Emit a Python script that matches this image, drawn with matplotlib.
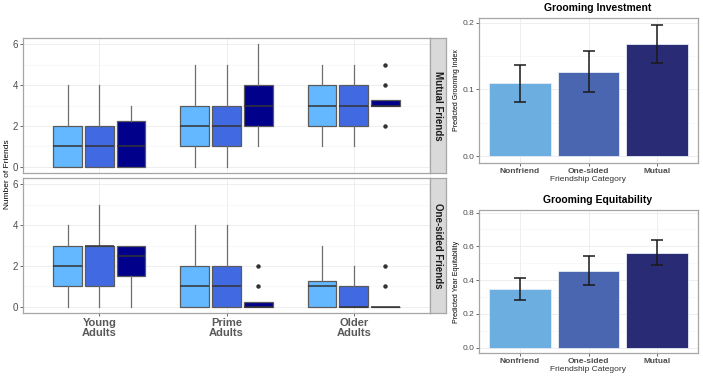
import numpy as np
import matplotlib
matplotlib.use('Agg')
import matplotlib.pyplot as plt

plt.rcParams['font.family'] = ['Liberation Sans', 'DejaVu Sans']

# ---- data ----
age_groups = ['Young\nAdults', 'Prime\nAdults', 'Older\nAdults']
friend_cats = ['Nonfriend', 'One-sided', 'Mutual']

# Mutual friends facet: per age group, per friendship type [Nonfriend, One-sided, Mutual]
mut_whislo = [[0, 0, 0], [0, 0, 1], [1, 1, 3]]
mut_q1 = [[0, 0, 0], [1, 1, 2], [2, 2, 3]]
mut_med = [[1, 1, 1], [2, 2, 3], [3, 3, 3]]
mut_q3 = [[2, 2, 2.25], [3, 3, 4], [4, 4, 3.25]]
mut_whishi = [[4, 4, 3], [5, 5, 6], [5, 5, 3.25]]
mut_fliers = [[[], [], []], [[], [], []], [[], [], [2, 4, 5]]]

# One-sided friends facet
one_whislo = [[0, 0, 0], [0, 0, 0], [0, 0, 0]]
one_q1 = [[1, 1, 1.5], [0, 0, 0], [0, 0, 0]]
one_med = [[2, 3, 2.5], [1, 1, 0], [1, 0, 0]]
one_q3 = [[3, 3, 3], [2, 2, 0.25], [1.25, 1, 0]]
one_whishi = [[4, 5, 3], [4, 4, 0.25], [3, 2, 0]]
one_fliers = [[[], [], []], [[], [], [1, 2]], [[], [], [1, 2]]]

# right-hand bar charts
invest_mean = [0.109, 0.126, 0.168]
invest_lo = [0.081, 0.096, 0.139]
invest_hi = [0.137, 0.157, 0.197]

equit_mean = [0.345, 0.454, 0.563]
equit_lo = [0.280, 0.370, 0.490]
equit_hi = [0.413, 0.543, 0.638]

box_colors = ['#63B8FF', '#4169E1', '#00008B']
bar_colors = ['#6CAEE0', '#4A66B0', '#292B75']
tick_col = '#4D4D4D'
border_col = '#A6A6A6'
grid_col = '#EBEBEB'

fig = plt.figure(figsize=(7.03, 3.77), dpi=100)
W, H = 703, 377


def px_axes(x0, y0, x1, y1):
    return fig.add_axes([x0 / W, 1 - y1 / H, (x1 - x0) / W, (y1 - y0) / H])


def style_panel(ax):
    for s in ax.spines.values():
        s.set_color(border_col)
        s.set_linewidth(0.9)
    ax.tick_params(colors=tick_col, labelcolor=tick_col, length=2, width=0.6, pad=1.5)
    ax.set_axisbelow(True)


def draw_facet(ax, whislo, q1, med, q3, whishi, fliers, strip_text, strip_ax):
    offsets = [-0.25, 0, 0.25]
    for g in range(len(age_groups)):
        for k in range(len(friend_cats)):
            st = dict(whislo=whislo[g][k], q1=q1[g][k], med=med[g][k], q3=q3[g][k],
                      whishi=whishi[g][k], fliers=fliers[g][k])
            ax.bxp([st], positions=[g + 1 + offsets[k]], widths=0.225,
                   patch_artist=True, showcaps=False, manage_ticks=False,
                   boxprops=dict(facecolor=box_colors[k], edgecolor='#5A5A5A', linewidth=0.9),
                   medianprops=dict(color='#333333', linewidth=1.1),
                   whiskerprops=dict(color='#6E6E6E', linewidth=0.9),
                   flierprops=dict(marker='o', markerfacecolor='#333333',
                                   markeredgecolor='#333333', markersize=2.2))
    ax.set_xlim(0.4, 3.6)
    ax.set_ylim(-0.3, 6.3)
    ax.set_yticks([0, 2, 4, 6])
    ax.set_yticks([1, 3, 5], minor=True)
    ax.set_xticks([1, 2, 3])
    ax.grid(True, which='major', color=grid_col, linewidth=0.6)
    ax.grid(True, which='minor', axis='y', color='#F4F4F4', linewidth=0.4)
    style_panel(ax)
    ax.tick_params(axis='y', which='minor', length=0)
    ax.tick_params(axis='y', labelsize=7)
    # strip on the right
    strip_ax.set_facecolor('#D9D9D9')
    strip_ax.set_xticks([])
    strip_ax.set_yticks([])
    for s in strip_ax.spines.values():
        s.set_color(border_col)
        s.set_linewidth(0.9)
    strip_ax.text(0.5, 0.5, strip_text, rotation=-90, ha='center', va='center',
                  fontsize=7, fontweight='bold', color='#1A1A1A', transform=strip_ax.transAxes)


ax_top = px_axes(23, 38, 430, 173)
strip_top = px_axes(430, 38, 446, 173)
ax_bot = px_axes(23, 178, 430, 313)
strip_bot = px_axes(430, 178, 446, 313)

draw_facet(ax_top, mut_whislo, mut_q1, mut_med, mut_q3, mut_whishi, mut_fliers,
           'Mutual Friends', strip_top)
draw_facet(ax_bot, one_whislo, one_q1, one_med, one_q3, one_whishi, one_fliers,
           'One-sided Friends', strip_bot)
ax_top.tick_params(axis='x', labelbottom=False, length=0)
ax_bot.set_xticklabels(age_groups, fontsize=8, fontweight='bold', color='#595959',
                       linespacing=1.0)
fig.text(8 / W, 1 - 174 / H, 'Number of Friends', rotation=90, ha='center', va='center',
         fontsize=6, color='black')


def draw_bars(ax, means, lo, hi, title, ylabel, ylim, yticks):
    x = np.arange(1, len(friend_cats) + 1)
    ax.bar(x, means, width=0.9, color=bar_colors, edgecolor='#E6ECF5', linewidth=0.6, zorder=2)
    yerr = [np.array(means) - np.array(lo), np.array(hi) - np.array(means)]
    ax.errorbar(x, means, yerr=yerr, fmt='none', ecolor='#1A1A1A', elinewidth=1.1,
                capsize=4, capthick=1.1, zorder=3)
    ax.set_xlim(0.4, 3.6)
    ax.set_ylim(*ylim)
    ax.set_yticks(yticks)
    mids = [(yticks[i] + yticks[i + 1]) / 2 for i in range(len(yticks) - 1)]
    ax.set_yticks(mids, minor=True)
    ax.set_xticks(x)
    ax.set_xticklabels(friend_cats, fontsize=6, fontweight='bold', color='#333333')
    ax.grid(True, which='major', color=grid_col, linewidth=0.6)
    ax.grid(True, which='minor', axis='y', color='#F4F4F4', linewidth=0.4)
    style_panel(ax)
    ax.tick_params(axis='y', which='minor', length=0)
    ax.tick_params(axis='y', labelsize=6)
    ax.set_title(title, fontsize=7.5, fontweight='bold', pad=5, x=0.54)
    ax.set_xlabel('Friendship Category', fontsize=6, color='#333333', labelpad=1)
    ax.set_ylabel(ylabel, fontsize=5)
    ax.yaxis.set_label_coords((460 - 479) / 219, 0.5)


ax_inv = px_axes(479, 18, 698, 163)
draw_bars(ax_inv, invest_mean, invest_lo, invest_hi, 'Grooming Investment',
          'Predicted Grooming Index', (-0.0099, 0.2069), [0.0, 0.1, 0.2])

ax_eq = px_axes(479, 210, 698, 353)
draw_bars(ax_eq, equit_mean, equit_lo, equit_hi, 'Grooming Equitability',
          'Predicted Year Equitability', (-0.032, 0.815), [0.0, 0.2, 0.4, 0.6, 0.8])

fig.savefig('out.png', dpi=100)
